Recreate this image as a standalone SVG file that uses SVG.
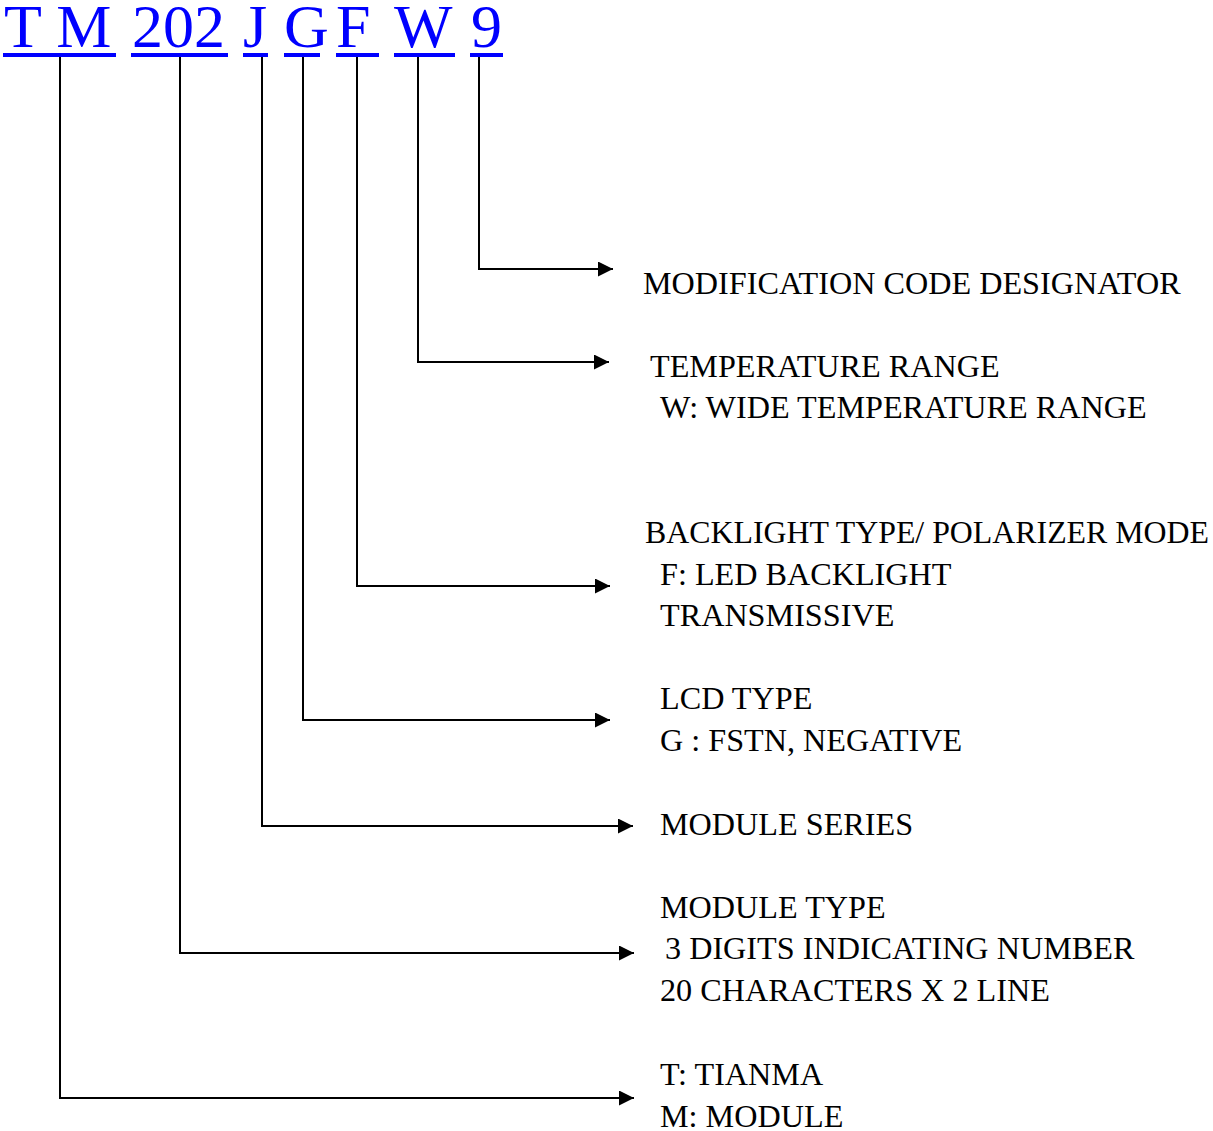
<svg xmlns="http://www.w3.org/2000/svg" width="1213" height="1131" viewBox="0 0 1213 1131">
<style>
.code{font-family:"Liberation Serif","Times New Roman",serif;font-size:62px;fill:#0000ff}
.ul{fill:#0000ff}
.lbl{font-family:"Liberation Serif","Times New Roman",serif;font-size:32.2px;fill:#000}
.conn{fill:none;stroke:#000;stroke-width:2;marker-end:url(#arr)}
</style>
<defs>
<marker id="arr" markerUnits="userSpaceOnUse" markerWidth="16" markerHeight="16" refX="15" refY="7.5" orient="auto">
<path d="M0,0 L15,7.5 L0,15 Z" fill="#000"/>
</marker>
</defs>
<rect width="1213" height="1131" fill="#fff"/>
<g id="code">
<g id="seg-TM"><text class="code" x="4" y="47">T M</text><rect class="ul" x="3" y="53" width="113" height="4"/></g>
<g id="seg-202"><text class="code" x="132" y="47">202</text><rect class="ul" x="131" y="53" width="97" height="4"/></g>
<g id="seg-J"><text class="code" x="243" y="47">J</text><rect class="ul" x="243" y="53" width="25" height="4"/></g>
<g id="seg-G"><text class="code" x="284" y="47">G</text><rect class="ul" x="284" y="53" width="36" height="4"/></g>
<g id="seg-F"><text class="code" x="336" y="47">F</text><rect class="ul" x="336" y="53" width="43" height="4"/></g>
<g id="seg-W"><text class="code" x="394" y="47">W</text><rect class="ul" x="394" y="53" width="61" height="4"/></g>
<g id="seg-9"><text class="code" x="471" y="47">9</text><rect class="ul" x="470" y="53" width="33" height="4"/></g>
</g>
<g id="connectors">
<path class="conn" d="M479,57 V269 H613"/>
<path class="conn" d="M418,57 V362 H609"/>
<path class="conn" d="M357,57 V586 H610"/>
<path class="conn" d="M303,57 V720 H610"/>
<path class="conn" d="M262,57 V826 H633"/>
<path class="conn" d="M180,57 V953 H634"/>
<path class="conn" d="M60,57 V1098 H634"/>
</g>
<g id="label-9"><text class="lbl" x="643" y="294">MODIFICATION CODE DESIGNATOR</text></g>
<g id="label-W"><text class="lbl" x="650" y="377">TEMPERATURE RANGE</text><text class="lbl" x="660" y="418">W: WIDE TEMPERATURE RANGE</text></g>
<g id="label-F"><text class="lbl" x="645" y="543" textLength="564" lengthAdjust="spacingAndGlyphs">BACKLIGHT TYPE/ POLARIZER MODE</text><text class="lbl" x="660" y="585">F: LED BACKLIGHT</text><text class="lbl" x="660" y="626">TRANSMISSIVE</text></g>
<g id="label-G"><text class="lbl" x="660" y="709">LCD TYPE</text><text class="lbl" x="660" y="751">G : FSTN, NEGATIVE</text></g>
<g id="label-J"><text class="lbl" x="660" y="835">MODULE SERIES</text></g>
<g id="label-202"><text class="lbl" x="660" y="918">MODULE TYPE</text><text class="lbl" x="665" y="959">3 DIGITS INDICATING NUMBER</text><text class="lbl" x="660" y="1001">20 CHARACTERS X 2 LINE</text></g>
<g id="label-TM"><text class="lbl" x="660" y="1085">T: TIANMA</text><text class="lbl" x="660" y="1127">M: MODULE</text></g>
</svg>
